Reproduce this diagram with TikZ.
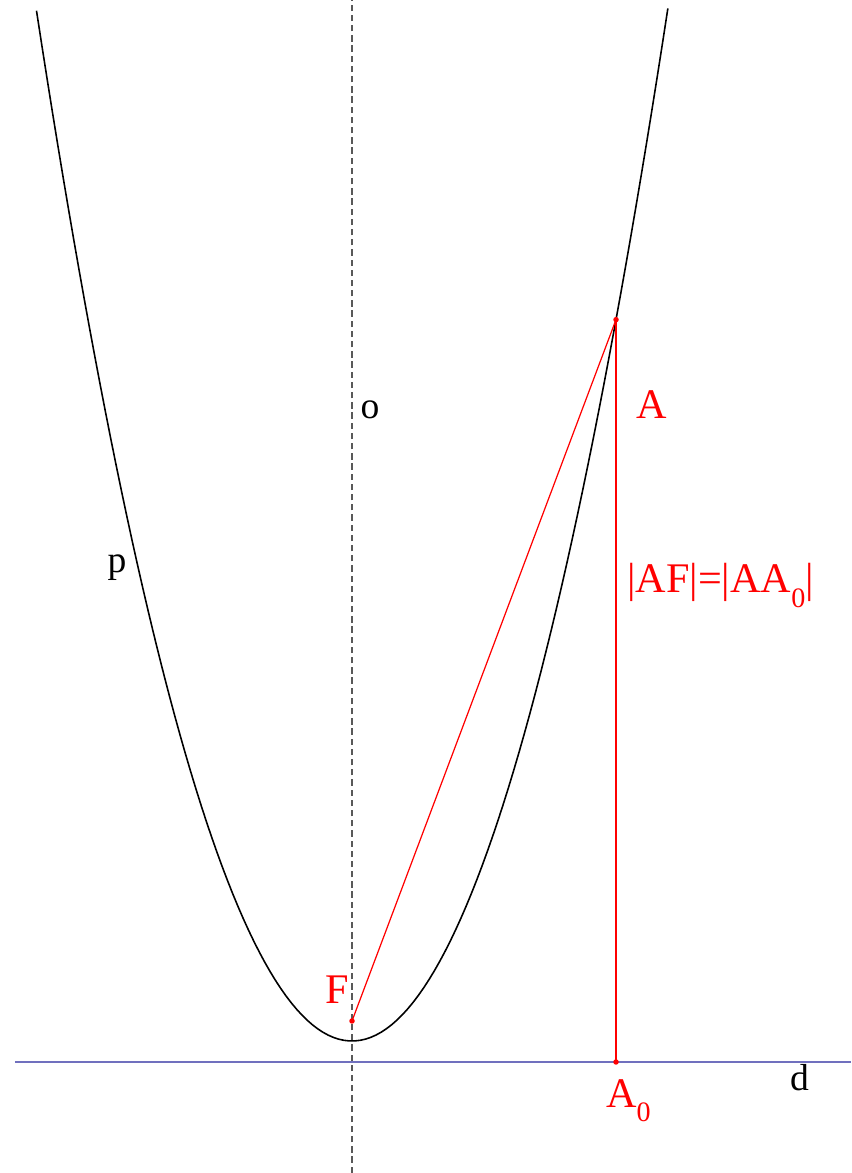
\documentclass[tikz,border=0pt]{standalone}
\usepackage{fontspec}
\setmainfont{Liberation Serif}
\definecolor{dirblue}{RGB}{112,112,190}
\begin{document}
\begin{tikzpicture}[
        redpt/.style={circle,fill=red,inner sep=0pt,minimum size=0.55mm},
        blacklab/.style={anchor=base,font=\fontsize{10.7}{12}\selectfont},
        redlab/.style={anchor=base,text=red,font=\fontsize{12}{14}\selectfont}]
        \def\xmin{-3.52} \def\xmax{4.99}
        \def\ymin{-1.11} \def\ymax{10.62}
        \useasboundingbox (\xmin,\ymin) rectangle (\xmax,\ymax);

        \draw[dirblue,line width=0.6pt] (-3.37,0) -- (\xmax,0);
        \draw[black!65,line width=0.45pt,dash pattern=on 1.8pt off 1.1pt] (0,\ymin) -- (0,\ymax);
        \draw[line width=0.45pt,domain=-3.155:3.16,samples=120,variable=\x] plot(\x,{0.21+1.035*\x*\x});

        \coordinate (F) at (0,0.41);
        \coordinate (A) at (2.64,{0.21+1.035*2.64*2.64});
        \coordinate (A0) at (2.64,0);

        \draw[red,line width=0.35pt] (A) -- (F);
        \draw[red,line width=0.35pt] (A) -- (A0);

        \node (Fpt) at (F) [redpt]{};
        \node (Apt) at (A) [redpt]{};
        \node (A0pt) at (A0) [redpt]{};

        \node (labo) at (0.18,6.43) [blacklab] {o};
        \node (labp) at (-2.35,4.89) [blacklab] {p};
        \node (labd) at (4.475,-0.287) [blacklab] {d};
        \node (labF) at (-0.145,0.587) [redlab] {F};
        \node (labA) at (3.0,6.43) [redlab] {A};
        \node (labA0) at (2.535,-0.453) [redlab,anchor=base west,inner sep=0pt] {A\raisebox{-4pt}{\fontsize{8}{8}\selectfont 0}};
        \node (labeq) at (2.747,4.69) [redlab,anchor=base west,inner sep=0pt] {|AF|=|AA\raisebox{-4pt}{\fontsize{8}{8}\selectfont 0}|};
\end{tikzpicture}
\end{document}
